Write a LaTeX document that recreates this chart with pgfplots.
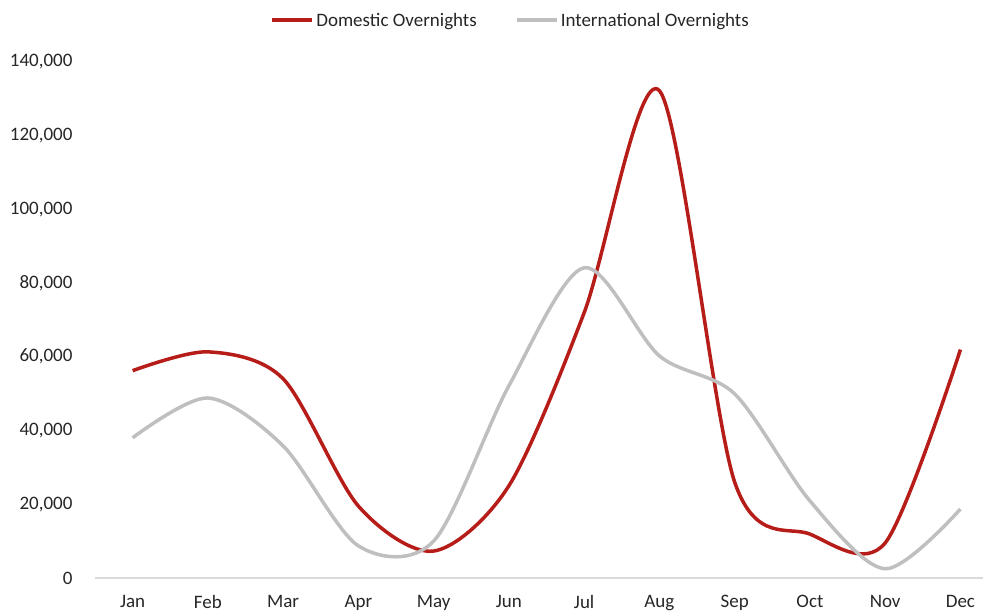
\documentclass[border=0pt]{standalone}
\usepackage{pgfplots}
\pgfplotsset{compat=1.18}
\usepackage{fontspec}
\setmainfont{Carlito}
\definecolor{domred}{RGB}{182,28,24}
\definecolor{intgrey}{RGB}{191,191,191}
\definecolor{axgrey}{RGB}{217,217,217}
\definecolor{txt}{RGB}{38,38,38}
\begin{document}
\begin{tikzpicture}
\useasboundingbox (-95pt,-34.5pt) rectangle (888pt,578pt);
\begin{axis}[
  at={(0,0)}, anchor=south west,
  scale only axis, width=888pt, height=516.5pt,
  xmin=-0.5, xmax=11.3, ymin=0, ymax=140000,
  xtick={0,...,11},
  xticklabels={Jan,Feb,Mar,Apr,May,Jun,Jul,Aug,Sep,Oct,Nov,Dec},
  ytick={0,20000,40000,60000,80000,100000,120000,140000},
  yticklabels={0,{20,000},{40,000},{60,000},{80,000},{100,000},{120,000},{140,000}},
  scaled y ticks=false,
  axis x line*=bottom, axis y line*=left,
  y axis line style={draw=none},
  x axis line style={draw=axgrey, line width=1.2pt, -},
  major tick length=0pt,
  tick label style={font=\fontsize{19}{22}\selectfont, text=txt},
  yticklabel style={xshift=-19pt},
  xticklabel style={yshift=-14pt},
  clip=false,
  legend columns=2,
  legend style={draw=none, fill=none, at={(0.468,1.0794)}, anchor=center,
    font=\fontsize{19}{22}\selectfont, text=txt,
    /tikz/every even column/.append style={column sep=36pt}},
  legend image code/.code={\draw[#1, line width=4pt] (0pt,0pt) -- (40pt,0pt);},
]
\addplot[domred, line width=3.5pt, smooth, tension=0.5] coordinates {
 (0,56200) (1,61300) (2,54000) (3,19500) (4,7300) (5,25000) (6,71900) (7,132100) (8,26000) (9,11900) (10,9500) (11,61900)};
\addlegendentry{Domestic Overnights}
\addplot[intgrey, line width=3.5pt, smooth, tension=0.5] coordinates {
 (0,38000) (1,48800) (2,35800) (3,8700) (4,10000) (5,52100) (6,84100) (7,60200) (8,49900) (9,20900) (10,2500) (11,18700)};
\addlegendentry{International Overnights}
\end{axis}
\end{tikzpicture}
\end{document}
